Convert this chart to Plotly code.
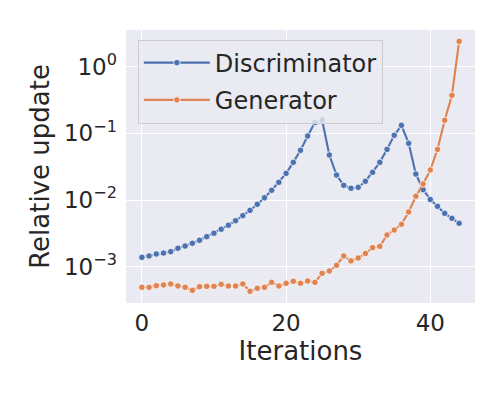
import plotly.graph_objects as go

iterations = list(range(45))

discriminator = [
    1.38e-3, 1.45e-3, 1.55e-3, 1.60e-3, 1.68e-3, 1.89e-3, 2.04e-3, 2.24e-3, 2.49e-3, 2.82e-3,
    3.17e-3, 3.64e-3, 4.18e-3, 4.90e-3, 5.82e-3, 7.00e-3, 8.63e-3, 1.08e-2, 1.40e-2, 1.84e-2,
    2.51e-2, 3.67e-2, 5.56e-2, 9.12e-2, 0.146, 0.158, 4.73e-2, 2.37e-2, 1.66e-2, 1.50e-2,
    1.55e-2, 1.91e-2, 2.60e-2, 3.67e-2, 5.75e-2, 9.33e-2, 0.132, 7.08e-2, 2.45e-2, 1.43e-2,
    1.02e-2, 8.04e-3, 6.31e-3, 5.31e-3, 4.47e-3,
]

generator = [
    4.90e-4, 4.90e-4, 5.19e-4, 5.31e-4, 5.50e-4, 5.13e-4, 4.90e-4, 4.42e-4, 5.01e-4, 5.07e-4,
    5.07e-4, 5.43e-4, 5.13e-4, 5.13e-4, 5.50e-4, 4.27e-4, 4.73e-4, 4.90e-4, 5.82e-4, 5.13e-4,
    5.62e-4, 6.03e-4, 5.62e-4, 6.10e-4, 5.82e-4, 7.94e-4, 8.61e-4, 1.05e-3, 1.45e-3, 1.22e-3,
    1.35e-3, 1.58e-3, 1.93e-3, 2.02e-3, 2.99e-3, 3.55e-3, 4.32e-3, 6.61e-3, 1.14e-2, 1.74e-2,
    2.82e-2, 5.75e-2, 0.157, 0.372, 2.40,
]

series = [("Discriminator", discriminator, "#4C72B0"), ("Generator", generator, "#DD8452")]

y_ticks = [1e-3, 1e-2, 1e-1, 1]
y_ticktext = ["10<sup>−3</sup>", "10<sup>−2</sup>", "10<sup>−1</sup>", "10<sup>0</sup>"]
x_ticks = [0, 20, 40]

FONT = "DejaVu Sans"
BG = "#EAEAF2"
INK = "#262626"

fig = go.Figure()
for name, vals, color in series:
    fig.add_trace(go.Scatter(
        x=iterations, y=vals, name=name, legendgroup=name, mode="lines+markers",
        line=dict(color=color, width=2.1),
        marker=dict(color=color, size=6.5, line=dict(color="white", width=0.8)),
    ))

fig.update_layout(
    width=504, height=396,
    margin=dict(l=126, r=29, t=30, b=93),
    paper_bgcolor="white", plot_bgcolor=BG,
    font=dict(family=FONT, color=INK, size=23),
    showlegend=True,
    legend=dict(
        x=0.034, y=0.965, xanchor="left", yanchor="top",
        bgcolor="rgba(234,234,242,0.8)", bordercolor="#CCCCCC", borderwidth=1,
        font=dict(family=FONT, size=24, color=INK),
        itemwidth=66, tracegroupgap=3,
    ),
)
fig.update_xaxes(
    range=[-2.2, 46.2], tickvals=x_ticks, showgrid=True, gridcolor="white", gridwidth=1.3,
    zeroline=False, showline=False, ticks="", tickfont=dict(size=23), ticklabelstandoff=4,
    title=dict(text="Iterations", font=dict(size=26), standoff=4),
)
fig.update_yaxes(
    type="log", range=[-3.545, 0.55], tickvals=y_ticks, ticktext=y_ticktext,
    showgrid=True, gridcolor="white", gridwidth=1.3, zeroline=False, showline=False,
    ticks="", tickfont=dict(size=23), ticklabelstandoff=8,
    title=dict(text="Relative update", font=dict(size=26), standoff=6),
)

fig.write_html("out.html", config={"displayModeBar": False},
               post_script="document.body.style.margin='0px';")
